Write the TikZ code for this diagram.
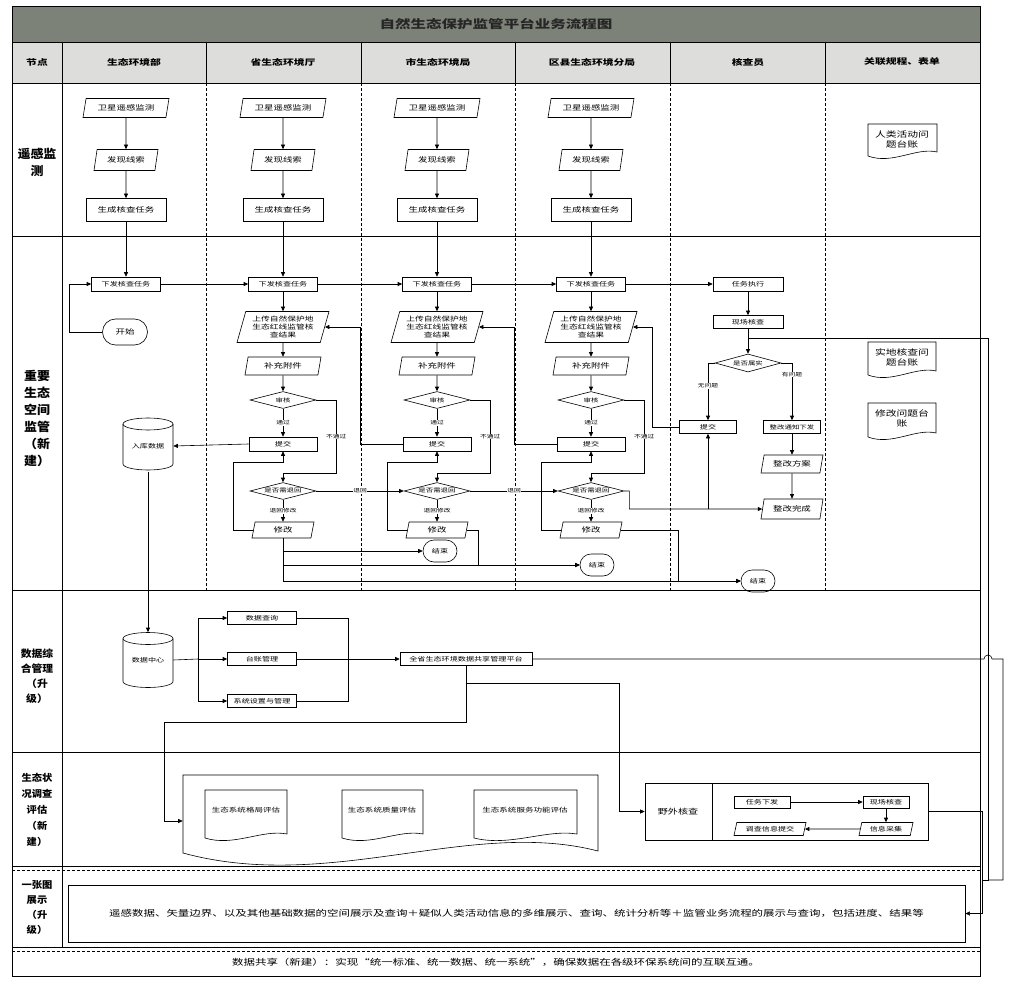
\documentclass[tikz,border=0pt]{standalone}
\usepackage{fontspec}
\setmainfont{Noto Sans CJK SC}[FakeStretch=1.35]
\newfontfamily\lblfont{Noto Sans CJK SC}[FakeStretch=1.08]
\usetikzlibrary{shapes.geometric,shapes.misc,arrows.meta,calc}
\definecolor{titlegray}{HTML}{7C8277}
\definecolor{headgray}{HTML}{DDDDDB}
\newcommand\mydoc[4]{\draw[line width=0.6pt] (#1,#2) -- (#3,#2) -- (#3,{#4-4}) .. controls ({#1+0.7*(#3-#1)},{#4-9}) and ({#1+0.35*(#3-#1)},{#4+9}) .. (#1,#4) -- cycle;}
\begin{document}
\begin{tikzpicture}[x=1pt,y=-1pt,line width=0.6pt,
  >={Triangle[length=4.5pt,width=4pt]},
  bx/.style={draw,rectangle,inner sep=1pt,minimum height=13pt,font=\fontsize{6}{7}\selectfont},
  pl/.style={draw,trapezium,trapezium left angle=70,trapezium right angle=110,trapezium stretches body,inner sep=1pt,minimum height=16pt,font=\fontsize{7}{8}\selectfont},
  dm/.style={draw,diamond,aspect=4,inner sep=0.5pt,minimum width=66pt,minimum height=17pt,font=\fontsize{5.5}{6}\selectfont},
  tm/.style={draw,rounded rectangle,minimum width=36pt,minimum height=22pt,inner sep=1pt,font=\fontsize{6}{7}\selectfont},
  lbl/.style={fill=white,inner sep=0.5pt,font=\fontsize{5}{6}\selectfont},
  rowlab/.style={align=center,inner sep=0pt},
  head/.style={font=\bfseries\fontsize{8}{9}\selectfont},
  doctext/.style={align=center,inner sep=0pt,font=\fontsize{8}{10}\selectfont},
  dbtext/.style={inner sep=0pt,font=\fontsize{6}{7}\selectfont}
]
\useasboundingbox (0,0) rectangle (1011,981);
% ---------- table ----------
\fill[titlegray] (12,6) rectangle (980,42);
\fill[headgray] (12,42) rectangle (980,83);
\draw[line width=0.9pt] (12,6) rectangle (980,976);
\foreach \y in {42,83,236,590,752,866,947} \draw[line width=0.9pt] (12,\y) -- (980,\y);
\draw[densely dashed,line width=0.4pt] (12,870) -- (980,870);
\draw[densely dashed,line width=0.4pt] (12,951) -- (980,951);
\draw[line width=0.7pt] (62,42) -- (62,947);
\foreach \x in {206,361,515,670,825}{
  \draw[line width=0.7pt] (\x,42) -- (\x,83);
  \draw[densely dashed,line width=0.5pt] (\x,83) -- (\x,590);
}
\node[font=\bfseries\fontsize{11.5}{12}\selectfont,text=black!85] (title) at (496,24) {自然生态保护监管平台业务流程图};
\node[head] (h0) at (37,62) {节点};
\node[head] (h1) at (134,62) {生态环境部};
\node[head] (h2) at (283,62) {省生态环境厅};
\node[head] (h3) at (438,62) {市生态环境局};
\node[head] (h4) at (592,62) {区县生态环境分局};
\node[head] (h5) at (748,62) {核查员};
\node[head] (h6) at (902,62) {关联规程、表单};
% row labels
\node[rowlab,font=\lblfont\bfseries\fontsize{12}{17}\selectfont] (l1) at (37,162) {遥感监\\测};
\node[rowlab,font=\lblfont\bfseries\fontsize{12}{17}\selectfont] (l2) at (37,418) {重要\\生态\\空间\\监管\\（新\\建）};
\node[rowlab,font=\lblfont\bfseries\fontsize{10}{15}\selectfont] (l3) at (37,676) {数据综\\合管理\\（升\\级）};
\node[rowlab,font=\lblfont\bfseries\fontsize{9.5}{16}\selectfont] (l4) at (37,810) {生态状\\况调查\\评估\\（新\\建）};
\node[rowlab,font=\lblfont\bfseries\fontsize{9.5}{15}\selectfont] (l5) at (37,907) {一张图\\展示\\（升\\级）};
% ---------- row 1 ----------
\foreach \i/\x in {1/126,2/283,3/437,4/591}{
  \node[pl,minimum width=86pt,minimum height=19pt] (s\i) at (\x,108) {卫星遥感监测};
  \node[pl,minimum width=64pt,minimum height=21pt] (f\i) at (\x,160) {发现线索};
  \node[bx,minimum width=80pt,minimum height=23pt,font=\fontsize{7}{8}\selectfont] (g\i) at (\x,210) {生成核查任务};
  \node[bx,minimum width=69pt,minimum height=14pt] (x\i) at (\x,284) {下发核查任务};
  \draw[->] (s\i) -- (f\i);
  \draw[->] (f\i) -- (g\i);
  \draw[->] (g\i) -- (x\i);
}
\mydoc{868}{124}{937}{156}
\node[doctext] (d0) at (902,139) {人类活动问\\题台账};
% ---------- row 2 ----------
\node[tm,minimum width=47pt,minimum height=26pt,font=\fontsize{7}{8}\selectfont] (start) at (125,332) {开始};
\draw[->] (start.west) -- ++(-33,0) |- (x1.west);
\node[bx,minimum width=70pt,minimum height=14pt] (t5) at (748,284) {任务执行};
\draw[->] (x1) -- (x2);
\draw[->] (x2) -- (x3);
\draw[->] (x3) -- (x4);
\draw[->] (x4) -- (t5);
\foreach \i/\x in {2/283,3/437,4/591}{
  \node[pl,minimum width=92pt,minimum height=31pt,align=center,font=\fontsize{6.5}{8}\selectfont] (u\i) at (\x,327) {上传自然保护地\\生态红线监管核\\查结果};
  \node[pl,minimum width=76pt,minimum height=18pt] (b\i) at (\x,366) {补充附件};
  \node[dm] (a\i) at (\x,400) {审核};
  \node[bx,minimum width=68pt,minimum height=14pt] (p\i) at (\x,444) {提交};
  \node[dm] (r\i) at (\x,491) {是否需退回};
  \node[pl,minimum width=62pt,minimum height=16pt] (m\i) at (\x,530) {修改};
  \draw[->] (x\i) -- (u\i);
  \draw[->] (u\i) -- (b\i);
  \draw[->] (b\i) -- (a\i);
  \draw[->] (a\i) -- node[lbl]{通过} (p\i);
  \draw[->] (a\i.east) -- ++(20,0) |- node[lbl,pos=0.25]{不通过} ($(r\i.north)+(0,-9)$) -- (r\i.north);
  \draw[->] (r\i) -- node[lbl]{退回修改} (m\i);
  \draw[->] (m\i.west) -| ($(p\i.south)+(-50,11)$) -| (p\i.south);
}
% database
\node[dbtext,minimum width=50pt,minimum height=52pt] (db1) at (148,446) {入库数据};
\draw (123,424) -- (123,464) arc[start angle=180,end angle=360,x radius=25pt,y radius=6pt] -- (173,424);
\draw (148,424) ellipse [x radius=25pt,y radius=6pt];
\draw[->] (p2.west) -- (db1.east);
\draw[->] (p3.west) -- ++(-42,0) |- (u2.east);
\draw[->] (p4.west) -- ++(-42,0) |- (u3.east);
\draw[->] (r2) -- node[lbl]{退回} (r3);
\draw[->] (r3) -- node[lbl]{退回} (r4);
% checker column
\node[bx,minimum width=70pt,minimum height=13pt] (k5) at (748,322) {现场核查};
\node[dm,minimum height=18pt] (q5) at (748,363) {是否属实};
\node[bx,minimum width=57pt,minimum height=13pt] (j5) at (708,427) {提交};
\node[bx,minimum width=57pt,minimum height=13pt,font=\fontsize{5.5}{6}\selectfont] (z5) at (792,427) {整改通知下发};
\node[pl,minimum width=62pt,minimum height=18pt] (z6) at (792,464) {整改方案};
\node[pl,minimum width=62pt,minimum height=20pt] (z7) at (792,509) {整改完成};
\draw[->] (t5) -- (k5);
\draw[->] (k5) -- (q5);
\draw[->] (q5.west) -| node[lbl,pos=0.7]{无问题} (j5.north);
\draw[->] (q5.east) -| node[lbl,pos=0.6]{有问题} (z5.north);
\draw[->] (z5) -- (z6);
\draw[->] (z6) -- (z7);
\draw[->] (j5.west) -- ++(-27,0) |- (u4.east);
\coordinate (rj) at ($(r4.east)+(5,18)$);
\draw[->] (r4.east) -| (rj) -- (z7.west);
\draw[->] (j5.south |- rj) -- (j5.south);
% end nodes
\node[tm] (e2) at (440,551) {结束};
\node[tm] (e3) at (597,565) {结束};
\node[tm] (e4) at (758,581) {结束};
\draw[->] (m2.south) |- (e2.west);
\draw[->] (m2.south) |- (e3.west);
\draw[->] (m2.south) |- (e4.west);
\draw[->] (m3.east) -- ++(12,0) |- (e3.west);
\draw[->] (m4.east) -- ++(58,0) |- (e4.west);
% related docs
\mydoc{868}{342}{936}{375}
\node[doctext] (d1) at (902,357) {实地核查问\\题台账};
\mydoc{868}{403}{936}{437}
\node[doctext] (d2) at (902,418) {修改问题台\\账};
% ---------- row 3 ----------
\node[dbtext,minimum width=50pt,minimum height=55pt] (db2) at (148,660) {数据中心};
\draw (123,638.5) -- (123,681.5) arc[start angle=180,end angle=360,x radius=25pt,y radius=6pt] -- (173,638.5);
\draw (148,638.5) ellipse [x radius=25pt,y radius=6pt];
\draw[->] (db1.south) -- (db2.north);
\node[bx,minimum width=69pt,minimum height=13pt] (q1) at (262,618) {数据查询};
\node[bx,minimum width=69pt,minimum height=13pt] (q2) at (262,659) {台账管理};
\node[bx,minimum width=69pt,minimum height=13pt] (q3) at (262,701) {系统设置与管理};
\coordinate (br) at (198,659);
\coordinate (mj) at (348,659);
\draw (db2.east) -- (br);
\draw[->] (br) |- (q1.west);
\draw[->] (br) -- (q2.west);
\draw[->] (br) |- (q3.west);
\draw (q1.east) -| (mj);
\draw (q3.east) -| (mj);
\node[bx,minimum width=132pt,minimum height=13pt] (pf) at (466,659) {全省生态环境数据共享管理平台};
\draw[->] (q2.east) -- (pf.west);
% ---------- row 4 ----------
\node[minimum width=415pt,minimum height=76pt] (dg) at (390.5,813) {};
\draw (183,775) -- (598,775) -- (598,851) .. controls (470,818) and (330,893) .. (183,853) -- cycle;
\mydoc{205}{790}{287}{838}
\node[inner sep=0pt,font=\fontsize{6.3}{7}\selectfont] (c1) at (246,810) {生态系统格局评估};
\mydoc{342}{790}{423}{838}
\node[inner sep=0pt,font=\fontsize{6.3}{7}\selectfont] (c2) at (382,810) {生态系统质量评估};
\mydoc{474}{790}{577}{838}
\node[inner sep=0pt,font=\fontsize{6.3}{7}\selectfont] (c3) at (525,810) {生态系统服务功能评估};
\node[draw,minimum width=283pt,minimum height=57pt] (ye) at (786.5,811.5) {};
\draw (712,783) -- (712,840);
\node[font=\fontsize{7.5}{8}\selectfont] (yl) at (678,812) {野外核查};
\node[bx,minimum width=56pt,minimum height=12pt] (y1) at (762,802) {任务下发};
\node[bx,minimum width=46pt,minimum height=12pt] (y2) at (886,802) {现场核查};
\node[pl,minimum width=54pt,minimum height=13pt,font=\fontsize{6}{7}\selectfont] (y3) at (886,829) {信息采集};
\node[pl,minimum width=72pt,minimum height=13pt,font=\fontsize{6}{7}\selectfont] (y4) at (770,829) {调查信息提交};
\draw[->] (y1) -- (y2);
\draw[->] (y2) -- (y3);
\draw[->] (y3) -- (y4);
\draw[->] (pf.south) -- ++(0,17) -| ($(ye.west)+(-25,0)$) -- (ye.west);
\draw[->] (pf.south) -- ++(0,56) -| ($(dg.west)+(-18,8)$) -- ($(dg.west)+(0,8)$);
% ---------- row 5 ----------
\node[draw,line width=0.8pt,minimum width=897pt,minimum height=57pt,font=\fontsize{8.5}{10}\selectfont] (r5) at (516.5,913.5) {遥感数据、矢量边界、以及其他基础数据的空间展示及查询＋疑似人类活动信息的多维展示、查询、统计分析等＋监管业务流程的展示与查询，包括进度、结果等};
% ---------- row 6 ----------
\node[font=\fontsize{8.5}{10}\selectfont] (r6) at (496,962) {数据共享（新建）：实现“统一标准、统一数据、统一系统”，确保数据在各级环保系统间的互联互通。};
% ---------- right side routing ----------
\coordinate (kq) at ($(k5.south)!0.4!(q5.north)$);
\coordinate (R1) at (988,880);
\coordinate (R2) at (982,880);
\draw (kq) -| (R1) -- (R2);
\draw[->] (R2) |- (r5.east);
\draw (pf.east) -- (984,659) arc[start angle=180,end angle=0,radius=4pt] -- (1003,659) |- (R1);
\draw (ye.east) -| (R2);
\end{tikzpicture}
\end{document}
